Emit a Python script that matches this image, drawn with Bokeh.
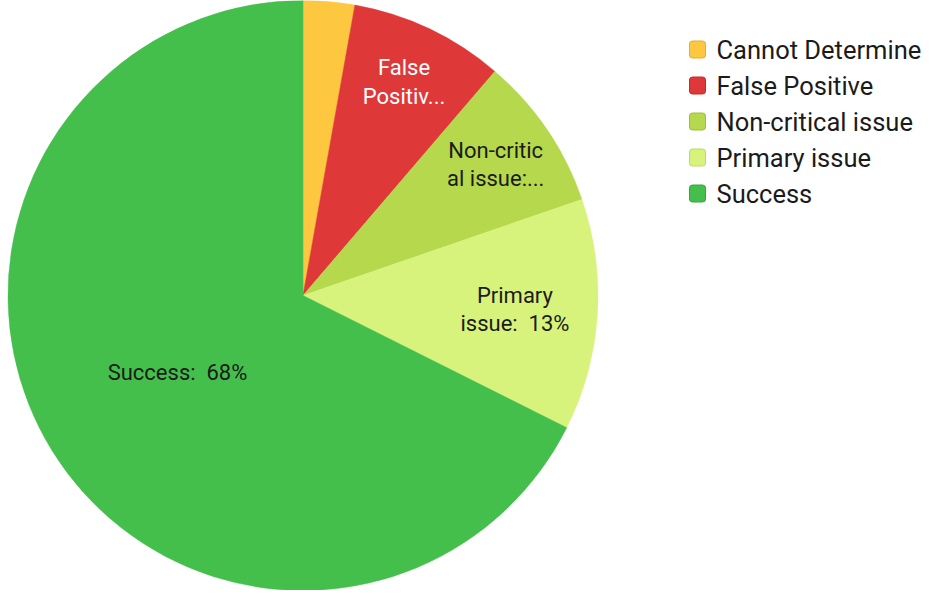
import numpy as np
from bokeh.plotting import figure
from bokeh.models import Range1d, ColumnDataSource
from bokeh.core.properties import value
from bokeh.embed import file_html
from bokeh.resources import INLINE

# ---- data ----
categories = ["Cannot Determine", "False Positive", "Non-critical issue", "Primary issue", "Success"]
counts = [2, 6, 6, 9, 48]
slice_labels = ["", "False\nPositiv...", "Non-critic\nal issue:...",
                "Primary\nissue:\u00a0 13%", "Success:\u00a0 68%"]

# ---- style ----
colors = ["#FDC73F", "#DE3838", "#B6D84C", "#D8F37C", "#44BF4C"]
edge_colors = ["#E3AE2C", "#C52A2A", "#9DBF38", "#BFD966", "#35A63D"]
label_colors = ["#1b1b1b", "#ffffff", "#1b1b1b", "#1b1b1b", "#1b1b1b"]
label_radius = [0.0, 0.80, 0.79, 0.72, 0.50]
FONT = "Roboto"

W, H = 934, 590
cx, cy, R = 302.5, 295.0, 295.0

p = figure(width=W, height=H, output_backend="svg", toolbar_location=None,
           x_range=Range1d(0, W), y_range=Range1d(0, H),
           x_axis_type=None, y_axis_type=None, min_border=0)
p.grid.visible = False
p.outline_line_color = None
p.background_fill_color = "white"
p.border_fill_color = "white"

vals = np.array(counts, dtype=float)
frac = vals / vals.sum()
cum = np.concatenate([[0.0], np.cumsum(frac)])
start = np.pi / 2 - 2 * np.pi * cum[:-1]
end = np.pi / 2 - 2 * np.pi * cum[1:]
mid = (start + end) / 2

src = ColumnDataSource(dict(start=start, end=end, color=colors, cat=categories))
p.wedge(x=cx, y=cy, radius=R, start_angle="start", end_angle="end",
        direction="clock", fill_color="color", line_color="color", line_width=0.5, source=src)

# slice labels
lr = np.array(label_radius) * R
lx = cx + lr * np.cos(mid)
ly = cy + lr * np.sin(mid)
keep = [i for i, s in enumerate(slice_labels) if s]
lsrc = ColumnDataSource(dict(x=lx[keep], y=ly[keep],
                             t=[slice_labels[i] for i in keep],
                             c=[label_colors[i] for i in keep]))
p.text(x="x", y="y", text="t", text_color="c", source=lsrc,
       text_font=value(FONT), text_font_size="22px", text_align="center",
       text_baseline="middle", text_line_height=1.15)

# legend
n = len(categories)
ly0, dy = 541.0, 36.0
leg_y = ly0 - dy * np.arange(n)
leg_src = ColumnDataSource(dict(x=[697.0] * n, tx=[716.0] * n, y=leg_y,
                                c=colors, e=edge_colors, t=categories))
p.rect(x="x", y="y", width=16, height=17, fill_color="c", line_color="e",
       line_width=1, border_radius=3, source=leg_src)
p.text(x="tx", y="y", text="t", source=leg_src, text_color="#1b1b1b",
       text_font=value(FONT), text_font_size="25.5px", text_align="left",
       text_baseline="middle")

open("out.html", "w").write(file_html(p, INLINE))
